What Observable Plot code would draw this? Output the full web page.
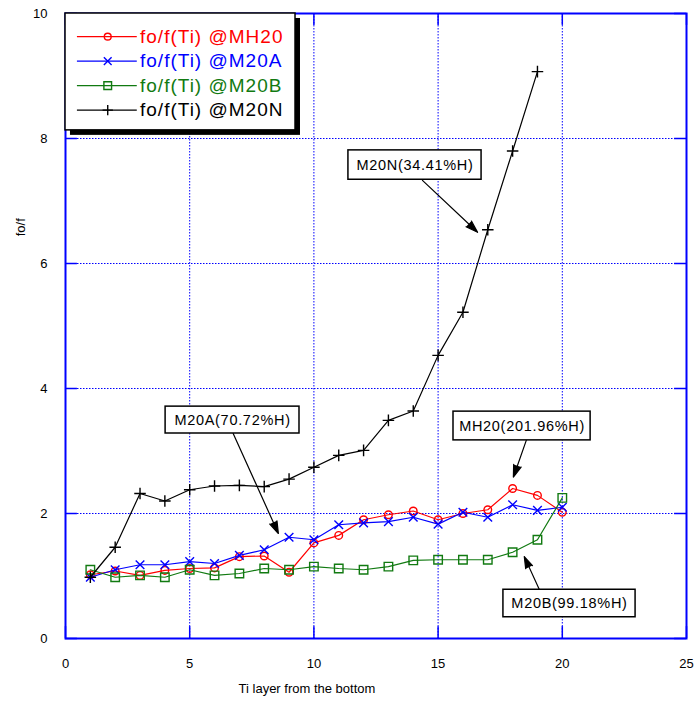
<!DOCTYPE html>
<html>
<head>
<meta charset="utf-8">
<script src="https://cdn.jsdelivr.net/npm/d3@7"></script>
<script src="https://cdn.jsdelivr.net/npm/@observablehq/plot@0.6"></script>
<style>
  html, body { margin: 0; padding: 0; background: #fff; }
  #chart { width: 696px; height: 702px; }
</style>
</head>
<body>
<div id="chart"></div>
<script>
// ---- data ----
const layers = [1,2,3,4,5,6,7,8,9,10,11,12,13,14,15,16,17,18,19,20];
const mh20 = [1.02,1.08,1.01,1.09,1.12,1.13,1.31,1.32,1.06,1.53,1.65,1.90,1.98,2.04,1.90,2.00,2.06,2.40,2.29,2.02];
const m20a = [0.98,1.10,1.18,1.18,1.23,1.20,1.33,1.42,1.62,1.58,1.82,1.85,1.87,1.94,1.83,2.02,1.94,2.14,2.05,2.10];
const m20b = [1.10,0.98,1.01,0.98,1.10,1.01,1.04,1.12,1.10,1.15,1.12,1.10,1.15,1.25,1.26,1.26,1.26,1.38,1.58,2.25];
const m20n = [0.98,1.46,2.32,2.20,2.38,2.44,2.45,2.43,2.55,2.74,2.93,3.01,3.49,3.64,4.53,5.22,6.54,7.80,9.07];

const seriesNames = ["fo/f(Ti) @MH20", "fo/f(Ti) @M20A", "fo/f(Ti) @M20B", "fo/f(Ti) @M20N"];
const seriesValues = [mh20, m20a, m20b, m20n];
const seriesColors = ["#ff0000", "#0000ff", "#117a11", "#000000"];
const seriesSymbols = ["circle", "times", "square", "plus"];

const xTicks = [0, 5, 10, 15, 20, 25];
const yTicks = [0, 2, 4, 6, 8, 10];
const xLabel = "Ti layer from the bottom";
const yLabel = "fo/f";

const notes = ["M20N(34.41%H)", "M20A(70.72%H)", "MH20(201.96%H)", "M20B(99.18%H)"];

// ---- layout (data units) ----
const noteBoxes = [
  {x1: 11.39, x2: 16.75, y1: 7.34, y2: 7.81},
  {x1: 4.03,  x2: 9.42,  y1: 3.28, y2: 3.71},
  {x1: 15.62, x2: 21.14, y1: 3.17, y2: 3.63},
  {x1: 17.63, x2: 22.95, y1: 0.34, y2: 0.78}
];
const noteArrows = [
  {x1: 14.37, y1: 7.33, x2: 16.59, y2: 6.50},
  {x1: 6.75,  y1: 3.28, x2: 8.57,  y2: 1.68},
  {x1: 18.55, y1: 3.17, x2: 18.03, y2: 2.58},
  {x1: 19.08, y1: 0.78, x2: 18.47, y2: 1.31}
];

const rows = [];
seriesValues.forEach((vals, s) => {
  vals.forEach((v, i) => rows.push({series: seriesNames[s], s, x: layers[i], y: v}));
});

const legendRows = seriesNames.map((name, i) => ({
  name, i, color: seriesColors[i], symbol: seriesSymbols[i],
  y: 9.63 - i * 0.392
}));

const symbolR = {circle: 3.8, times: 4.0, square: 4.8, plus: 3.8};

const blue = "#0000ff";
const marks = [];

// grid
marks.push(Plot.ruleX(xTicks.slice(1, -1), {x: d => d, stroke: blue, strokeWidth: 1, strokeDasharray: "1.5,1.5"}));
marks.push(Plot.ruleY(yTicks.slice(1, -1), {y: d => d, stroke: blue, strokeWidth: 1, strokeDasharray: "1.5,1.5"}));
// inward ticks on all sides
marks.push(Plot.ruleX(xTicks, {x: d => d, y1: 0, y2: 0.19, stroke: blue, strokeWidth: 1.5}));
marks.push(Plot.ruleX(xTicks, {x: d => d, y1: 10, y2: 9.81, stroke: blue, strokeWidth: 1.5}));
marks.push(Plot.ruleY(yTicks, {y: d => d, x1: 0, x2: 0.48, stroke: blue, strokeWidth: 1.5}));
marks.push(Plot.ruleY(yTicks, {y: d => d, x1: 25, x2: 24.52, stroke: blue, strokeWidth: 1.5}));
marks.push(Plot.frame({stroke: blue, strokeWidth: 2}));

// axes labels
marks.push(Plot.axisX({ticks: xTicks, tickSize: 0, tickPadding: 20, label: null, fontSize: 13, fill: "#000"}));
marks.push(Plot.axisY({ticks: yTicks, tickSize: 0, tickPadding: 18, label: null, fontSize: 13, fill: "#000"}));
marks.push(Plot.text([xLabel], {x: 9.72, y: -0.80, text: d => d, fontSize: 13, fill: "#000"}));
marks.push(Plot.text([yLabel], {x: -1.80, y: 6.58, text: d => d, rotate: -90, fontSize: 13, fill: "#000"}));

// series
seriesNames.forEach((name, s) => {
  const d = rows.filter(r => r.s === s);
  const sym = seriesSymbols[s];
  marks.push(Plot.line(d, {x: "x", y: "y", stroke: seriesColors[s], strokeWidth: 1.2}));
  const isFilled = sym === "circle" || sym === "square";
  marks.push(Plot.dot(d, {x: "x", y: "y", symbol: sym, stroke: seriesColors[s],
    fill: isFilled ? "none" : undefined, r: symbolR[sym], strokeWidth: 1.4}));
});

// annotations
marks.push(Plot.arrow(noteArrows, {x1: "x1", y1: "y1", x2: "x2", y2: "y2", stroke: "#000", fill: "#000",
  strokeWidth: 1.2, headLength: 16, headAngle: 36}));
marks.push(Plot.rect(noteBoxes, {x1: "x1", x2: "x2", y1: "y1", y2: "y2", fill: "#fff", stroke: "#000", strokeWidth: 1.5}));
marks.push(Plot.text(notes, {x: (d, i) => (noteBoxes[i].x1 + noteBoxes[i].x2) / 2,
  y: (d, i) => (noteBoxes[i].y1 + noteBoxes[i].y2) / 2, text: d => d, fontSize: 14.5, fill: "#000"}));

// legend
marks.push(Plot.rect([0], {x1: 0.20, x2: 9.46, y1: 8.05, y2: 9.92, fill: "#000"}));
marks.push(Plot.rect([0], {x1: 0.0, x2: 9.26, y1: 8.13, y2: 10, fill: "#fff", stroke: "#000", strokeWidth: 1.5}));
marks.push(Plot.ruleY(legendRows, {y: "y", x1: 0.48, x2: 2.89, stroke: "color", strokeWidth: 1.3}));
legendRows.forEach(r => {
  const isFilled = r.symbol === "circle" || r.symbol === "square";
  marks.push(Plot.dot([r], {x: 1.70, y: "y", symbol: r.symbol, stroke: r.color, fill: isFilled ? "none" : undefined,
    r: symbolR[r.symbol] * 0.9, strokeWidth: 1.4}));
});
marks.push(Plot.text(legendRows, {x: 3.0, y: "y", text: "name", fill: "color", textAnchor: "start", fontSize: 19}));

const chart = Plot.plot({
  width: 696, height: 702,
  marginLeft: 65, marginRight: 10, marginTop: 13, marginBottom: 64,
  x: {domain: [0, 25]},
  y: {domain: [0, 10]},
  style: {fontFamily: "'Liberation Sans', Arial, sans-serif", background: "#fff", color: "#000", overflow: "visible"},
  marks
});

d3.select(chart).selectAll("text")
  .filter(function() { return seriesNames.includes(this.textContent); })
  .attr("letter-spacing", "1px").style("letter-spacing", "1px");
d3.select(chart).selectAll("text")
  .filter(function() { return notes.includes(this.textContent); })
  .attr("letter-spacing", "0.7px").style("letter-spacing", "0.7px");
document.getElementById("chart").append(chart);
</script>
</body>
</html>
